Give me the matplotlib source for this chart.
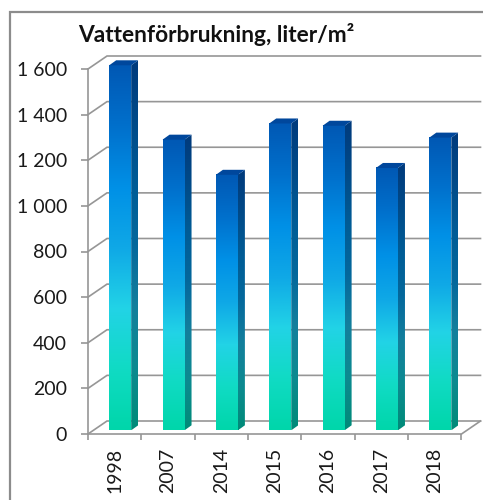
import numpy as np
import matplotlib.pyplot as plt
from matplotlib.colors import LinearSegmentedColormap
from matplotlib.patches import Polygon, Rectangle

years = ['1998', '2007', '2014', '2015', '2016', '2017', '2018']
water_use = [1600, 1274, 1120, 1345, 1335, 1150, 1283]
y_ticks = [0, 200, 400, 600, 800, 1000, 1200, 1400, 1600]
y_labels = ['0', '200', '400', '600', '800', '1 000', '1 200', '1 400', '1 600']
title = 'Vattenförbrukning, liter/m²'

W, H = 483, 500
GRID = '#969696'
plt.rcParams['font.family'] = ['Lato', 'DejaVu Sans']

fig = plt.figure(figsize=(W / 100, H / 100), dpi=100)
ax = fig.add_axes([88 / W, 1 - 434 / H, 373.5 / W, 365 / H])
ax.set_xlim(0, len(years))
ax.set_ylim(0, 1600)
ax.set_facecolor('none')
for s in ax.spines.values():
    s.set_visible(False)

# depth of the fake 3d floor, in data units
px_x = len(years) / 373.5
px_y = 1600 / 365
depth_x = 19 * px_x
depth_y = 13 * px_y

# back wall and floor
for v in y_ticks:
    ax.plot([0, depth_x, len(years) + depth_x], [v, v + depth_y, v + depth_y],
            color=GRID, lw=1.2, clip_on=False, zorder=1, solid_joinstyle='miter')
ax.plot([0, len(years), len(years) + depth_x], [0, 0, depth_y],
        color=GRID, lw=1.2, clip_on=False, zorder=1)
ax.plot([0, 0], [0, 1600], color=GRID, lw=1.2, clip_on=False, zorder=1)

ax.set_xticks(range(len(years) + 1))
ax.set_xticklabels([])
ax.set_yticks(y_ticks)
ax.set_yticklabels(y_labels, fontsize=14, color='#1a1a1a')
ax.tick_params(axis='y', length=5, width=1.2, color=GRID, pad=10)
ax.tick_params(axis='x', length=4.5, width=1.2, color=GRID)
for i, y in enumerate(years):
    ax.text(i + 0.5, -62, y, rotation=90, ha='center', va='top', fontsize=14,
            color='#1a1a1a')

front = LinearSegmentedColormap.from_list(
    'front', ['#00d6aa', '#10dbc4', '#22d3e6', '#0fa8e6', '#0090e6', '#0070cc', '#0058b4'])
side = LinearSegmentedColormap.from_list(
    'side', ['#008a78', '#0c8a90', '#137f9c', '#04689c', '#005c96', '#004a88', '#003a7c'])
ramp = np.linspace(0, 1, 256).reshape(-1, 1)

bar_w = 22 * px_x
off_x = 5.5 * px_x
off_y = 3.7 * px_y
side_x = 7 * px_x
side_y = 5 * px_y

for i, v in enumerate(water_use):
    x0 = i + 0.5 - bar_w / 2 + off_x
    x1 = x0 + bar_w
    y0 = off_y
    y1 = v + off_y
    ax.imshow(ramp, origin='lower', cmap=front, aspect='auto',
              extent=[x0, x1, y0, y1], zorder=3, clip_on=False)
    sp = Polygon([(x1, y0), (x1 + side_x, y0 + side_y), (x1 + side_x, y1 + side_y), (x1, y1)],
                 closed=True, transform=ax.transData, fc='none', ec='none')
    ax.add_patch(sp)
    sp.set_clip_on(False)
    ims = ax.imshow(ramp, origin='lower', cmap=side, aspect='auto',
                    extent=[x1, x1 + side_x, y0, y1 + side_y], zorder=3)
    ims.set_clip_box(fig.bbox)
    ims.set_clip_path(sp)
    ax.add_patch(Polygon([(x0, y1), (x1, y1), (x1 + side_x, y1 + side_y), (x0 + side_x, y1 + side_y)],
                         closed=True, fc='#00479c', ec='none', zorder=3, clip_on=False))
ax.set_xlim(0, len(years))
ax.set_ylim(0, 1600)

# outer frame, cut by the image edge
fig.add_artist(Rectangle((9.5 / W, -0.1), 1.2, 1.1 - 12.5 / H, transform=fig.transFigure,
                         fc='none', ec='#8c8c8c', lw=1.6))
fig.text(78 / W, 1 - 42 / H, title, fontsize=16.4, fontweight='bold', color='#111111',
         ha='left', va='baseline')

fig.savefig('out.png', dpi=100)
